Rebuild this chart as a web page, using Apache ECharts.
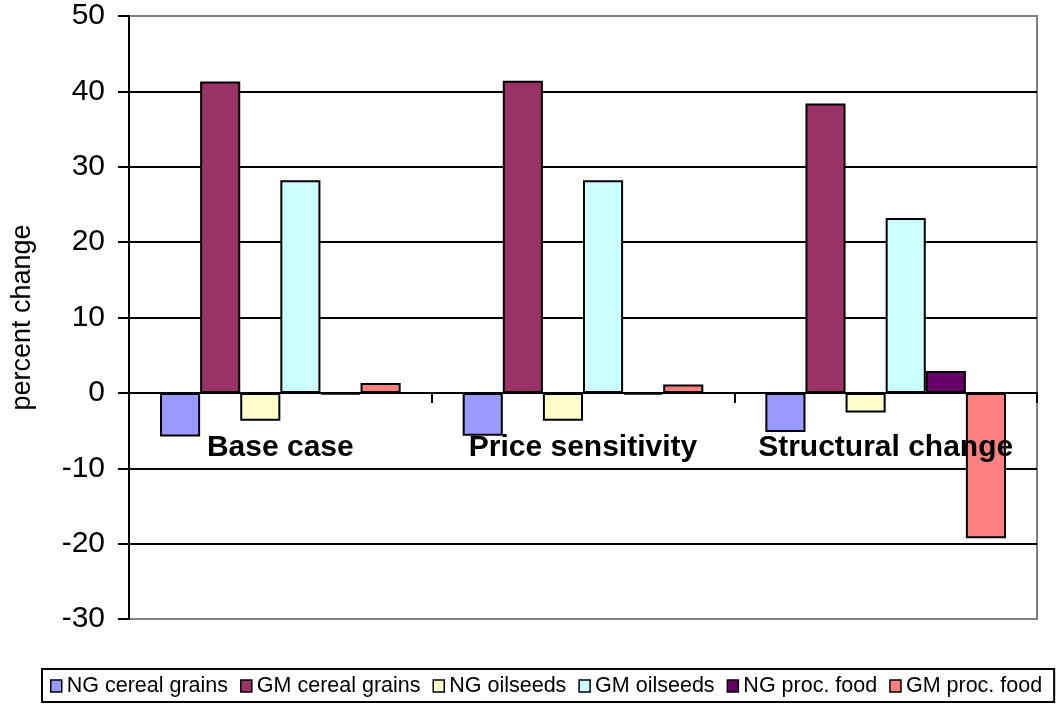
<!DOCTYPE html>
<html>
<head>
<meta charset="utf-8">
<script src="https://cdn.jsdelivr.net/npm/echarts@6/dist/echarts.min.js"></script>
<style>
  html, body { margin: 0; padding: 0; background: #ffffff; }
  #chart { width: 1057px; height: 704px; }
</style>
</head>
<body>
<div id="chart"></div>
<script>
// Scenarios along the category axis
const scenarios = ['Base case', 'Price sensitivity', 'Structural change'];

// Percent change per product group, one value per scenario
const ngCerealGrains = [-5.8, -5.7, -5.2];
const gmCerealGrains = [41.3, 41.4, 38.4];
const ngOilseeds     = [-3.7, -3.7, -2.6];
const gmOilseeds     = [28.2, 28.2, 23.2];
const ngProcFood     = [-0.2, -0.2, 2.9];
const gmProcFood     = [1.3, 1.1, -19.3];

const seriesNames  = ['NG cereal grains', 'GM cereal grains', 'NG oilseeds', 'GM oilseeds', 'NG proc. food', 'GM proc. food'];
const seriesData   = [ngCerealGrains, gmCerealGrains, ngOilseeds, gmOilseeds, ngProcFood, gmProcFood];
const seriesColors = ['#9999FF', '#993366', '#FFFFCC', '#CCFFFF', '#660066', '#FF8080'];

const baseFont = "'Liberation Sans', Arial, sans-serif";

const chart = echarts.init(document.getElementById('chart'), null, { renderer: 'canvas' });

const option = {
  animation: false,
  backgroundColor: '#ffffff',
  grid: {
    left: 129, right: 20, top: 16, bottom: 85,
    show: true,
    borderColor: '#808080',
    borderWidth: 2,
    backgroundColor: 'transparent'
  },
  legend: {
    data: seriesNames,
    left: 42,
    top: 669,
    width: 1100,
    orient: 'horizontal',
    padding: [6, 12, 5, 8],
    itemGap: 12,
    itemWidth: 11,
    itemHeight: 12,
    icon: 'rect',
    borderColor: '#000000',
    borderWidth: 2,
    backgroundColor: '#ffffff',
    itemStyle: { borderColor: '#000000', borderWidth: 1.5 },
    textStyle: { fontFamily: baseFont, fontSize: 21.5, color: '#000000' }
  },
  xAxis: {
    type: 'category',
    data: scenarios,
    position: 'bottom',
    offset: 0,
    z: 10,
    axisLine: { onZero: false, lineStyle: { color: '#000000', width: 2 } },
    axisTick: { show: true, inside: false, length: 10, lineStyle: { color: '#000000', width: 2 } },
    axisLabel: {
      interval: 0,
      hideOverlap: false,
      margin: 40,
      fontFamily: baseFont,
      fontWeight: 'bold',
      fontSize: 30,
      color: '#000000'
    },
    splitLine: { show: false }
  },
  yAxis: {
    type: 'value',
    min: -30,
    max: 50,
    interval: 10,
    name: 'percent change',
    nameLocation: 'middle',
    nameRotate: 90,
    nameGap: 93,
    nameTextStyle: { fontFamily: baseFont, fontSize: 27, color: '#000000' },
    axisLine: { show: true, lineStyle: { color: '#000000', width: 2 } },
    axisTick: { show: true, inside: false, length: 11, lineStyle: { color: '#000000', width: 2 } },
    axisLabel: { margin: 24, fontFamily: baseFont, fontSize: 30, color: '#000000' },
    splitLine: {
      show: true,
      showMinLine: false,
      showMaxLine: false,
      lineStyle: { color: '#000000', width: 2 }
    }
  },
  series: seriesNames.map((name, i) => ({
    name: name,
    type: 'bar',
    data: seriesData[i],
    barGap: '0%',
    barCategoryGap: '20.5%',
    itemStyle: {
      color: seriesColors[i],
      borderColor: '#000000',
      borderWidth: 2
    }
  }))
};

chart.setOption(option);

// Move the category axis (line, ticks and labels) up to the value-axis zero line
const zeroY = chart.convertToPixel({ yAxisIndex: 0 }, 0);
const bottomY = chart.convertToPixel({ yAxisIndex: 0 }, -30);
chart.setOption({ xAxis: { offset: -(bottomY - zeroY) } });
</script>
</body>
</html>
